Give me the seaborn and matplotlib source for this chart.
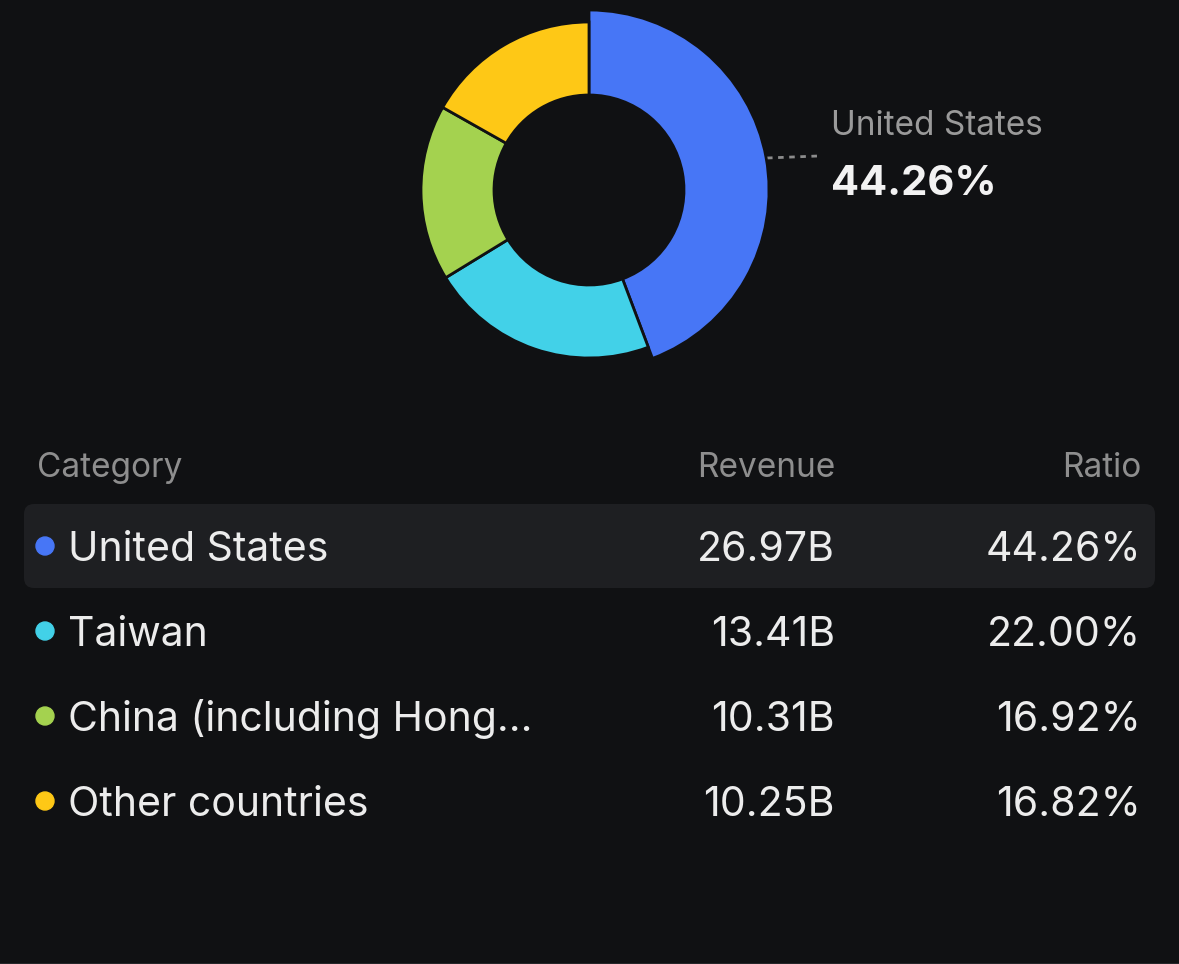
import matplotlib
matplotlib.use("Agg")
import matplotlib.pyplot as plt
import seaborn as sns
from matplotlib.patches import FancyBboxPatch, Circle

categories = ["United States", "Taiwan", "China (including Hong...", "Other countries"]
revenue = [26.97, 13.41, 10.31, 10.25]   # billions
ratio = [44.26, 22.00, 16.92, 16.82]     # percent
headers = ["Category", "Revenue", "Ratio"]
highlight = "United States"

bg = "#101113"
palette = sns.color_palette(["#4776F6", "#42D1E8", "#A4D24F", "#FEC816"])

sns.set_theme(style="dark", rc={"figure.facecolor": bg, "axes.facecolor": bg,
                                "savefig.facecolor": bg})
plt.rcParams["font.family"] = ["Inter", "DejaVu Sans"]

W, H = 1179, 964
fig = plt.figure(figsize=(W / 100, H / 100), dpi=100)

# full-figure axes in pixel units for the table and labels
ax = fig.add_axes([0, 0, 1, 1])
ax.set_xlim(0, W)
ax.set_ylim(H, 0)
ax.axis("off")

# donut
cx, cy, box = 589, 190, 200
pax = fig.add_axes([(cx - box) / W, (H - cy - box) / H, 2 * box / W, 2 * box / H])
wedges, _ = pax.pie(ratio, colors=palette, startangle=90, counterclock=False,
                    radius=168, wedgeprops=dict(width=73, edgecolor=bg, linewidth=2))
sel = categories.index(highlight)
wedges[sel].set_radius(180)
wedges[sel].set_width(85)
pax.set_xlim(-box, box)
pax.set_ylim(-box, box)
pax.axis("off")

# callout for the selected slice
ax.plot([767, 818], [158, 156], ls=(0, (2, 2)), color="#8c8c8c", lw=2)
ax.text(831, 135, categories[sel], color="#9a9a9a", fontsize=24, va="baseline")
ax.text(831, 195, f"{ratio[sel]:.2f}%", color="#f2f2f2", fontsize=30,
        fontweight="bold", va="baseline")

# table header
hdr_col = "#8e8e8e"
ax.text(37, 477, headers[0], color=hdr_col, fontsize=24, va="baseline")
ax.text(835, 477, headers[1], color=hdr_col, fontsize=24, va="baseline", ha="right")
ax.text(1141, 477, headers[2], color=hdr_col, fontsize=24, va="baseline", ha="right")

# highlighted row background
ax.add_patch(FancyBboxPatch((24, 504), 1131, 84, boxstyle="round,pad=0,rounding_size=10",
                            fc="#1e1f22", ec="none"))

row_col = "#ececec"
for i, (cat, rev, pct) in enumerate(zip(categories, revenue, ratio)):
    base = 561 + 85 * i
    ax.add_patch(Circle((45, base - 15), 9, color=palette[i]))
    ax.text(68, base, cat, color=row_col, fontsize=29.5, va="baseline")
    ax.text(835, base, f"{rev:.2f}B", color=row_col, fontsize=29.5, va="baseline", ha="right")
    ax.text(1141, base, f"{pct:.2f}%", color=row_col, fontsize=29.5, va="baseline", ha="right")

ax.axhline(H - 0.5, color="#25272a", lw=1.5)

fig.savefig("out.png", dpi=100, facecolor=bg)
